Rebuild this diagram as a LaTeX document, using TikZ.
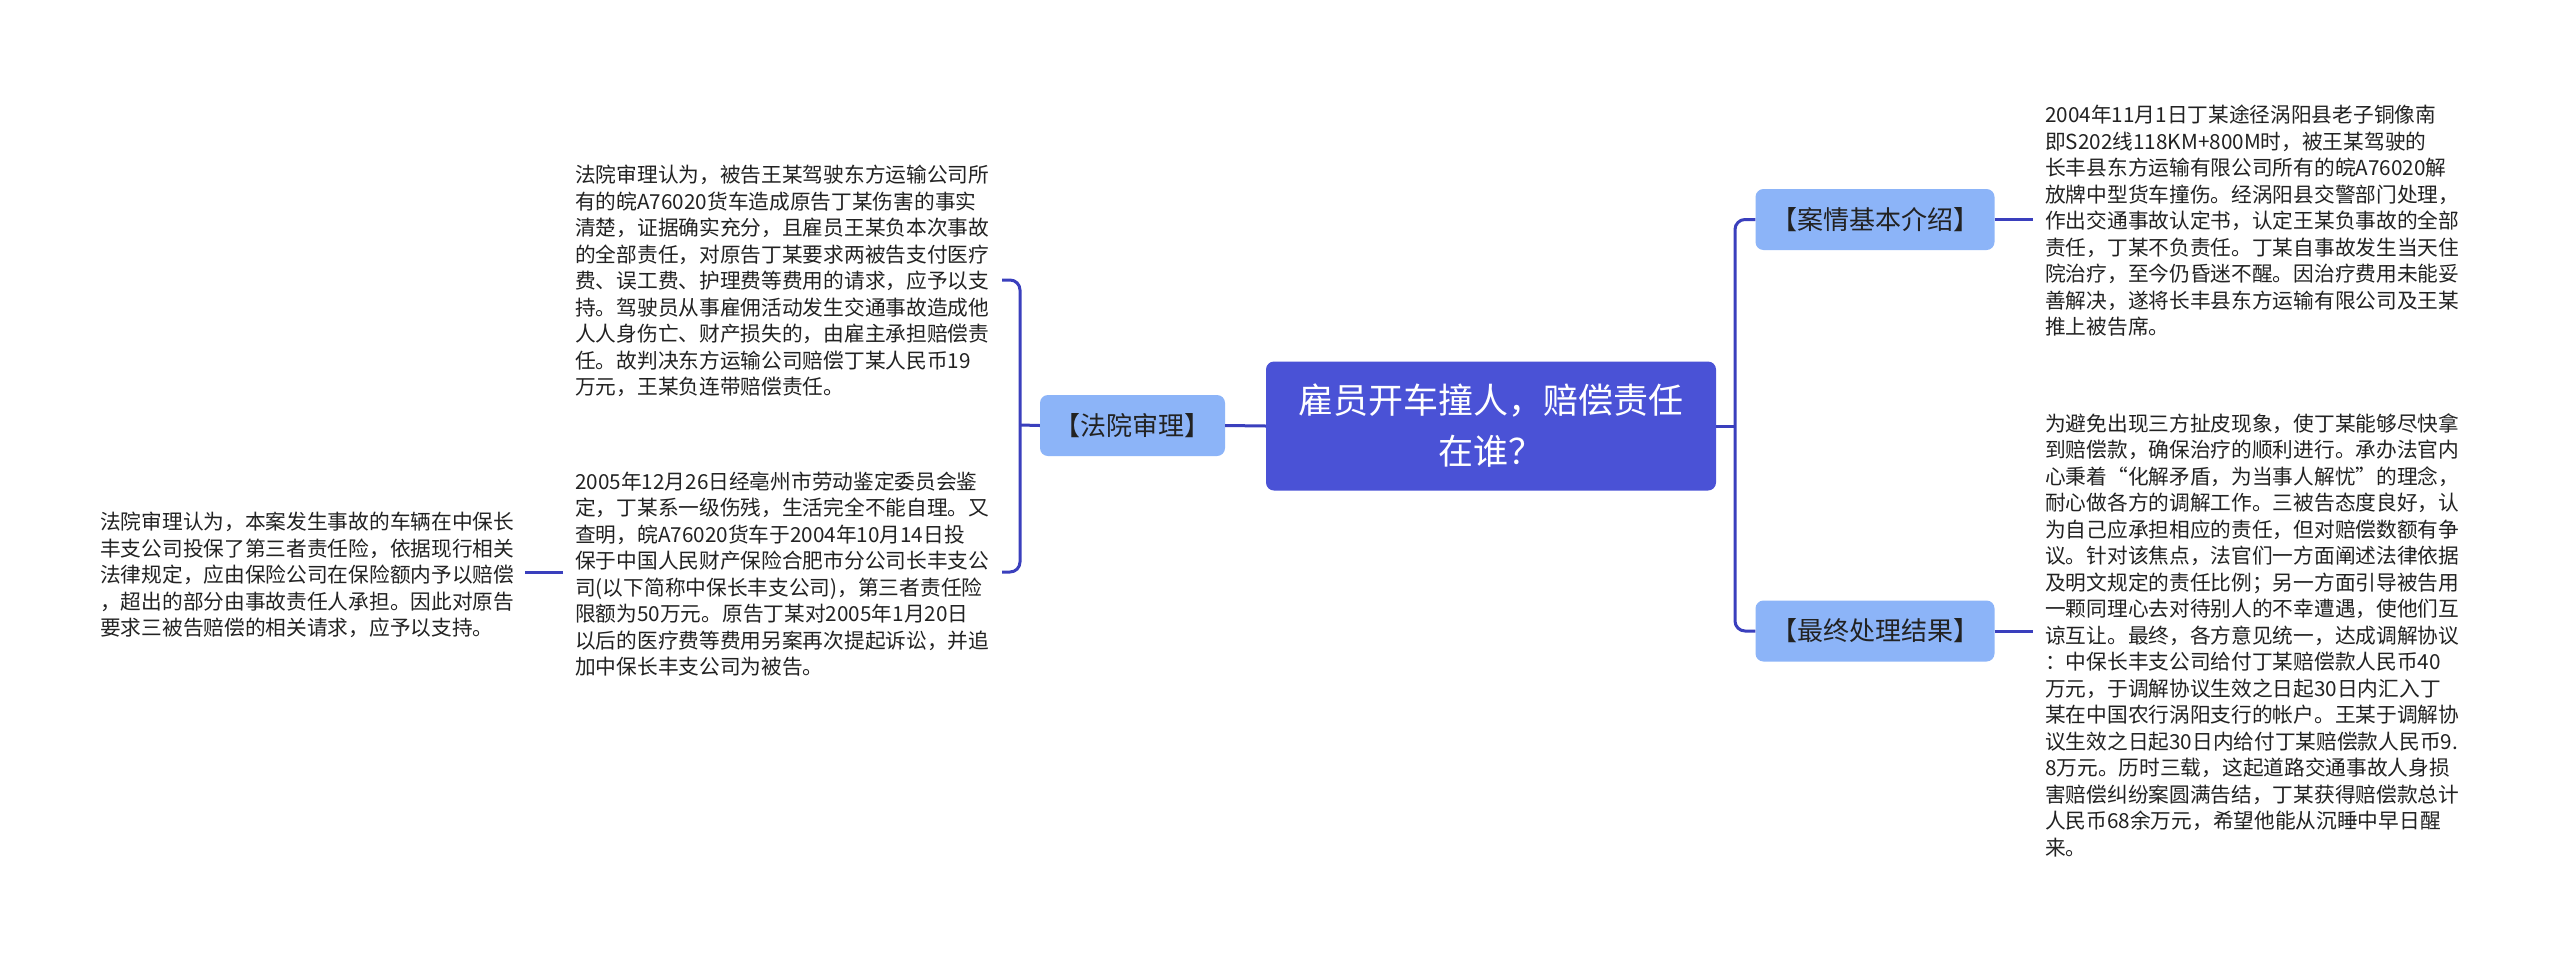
\documentclass[tikz,border=0pt]{standalone}
\usepackage{fontspec}
\newfontfamily\cjk{Noto Sans CJK SC}
\definecolor{mainblue}{RGB}{74,82,214}
\definecolor{subblue}{RGB}{140,180,248}
\definecolor{linec}{RGB}{58,63,189}
\definecolor{txt}{RGB}{34,34,34}
\tikzset{
  conn/.style={draw=linec, line width=3pt},
  rootbox/.style={fill=mainblue, rounded corners=8pt, inner sep=0pt, minimum width=450pt, minimum height=129pt, text=white, align=center, font=\cjk\fontsize{35}{51}\selectfont},
  subbox/.style={fill=subblue, rounded corners=8pt, inner sep=0pt, minimum height=61pt, text=txt, font=\cjk\fontsize{26}{30}\selectfont},
  para/.style={anchor=west, inner sep=0pt, align=left, text=txt, font=\cjk\fontsize{20.7}{26.5}\selectfont}
}
\begin{document}
\begin{tikzpicture}[x=1pt,y=-1pt]
\useasboundingbox (0,0) rectangle (2560,959);
\fill[white] (0,0) rectangle (2560,959);

\node[rootbox] (c) at (1491,426) {雇员开车撞人，赔偿责任\\在谁？};
\node[subbox, minimum width=185pt] (n1) at (1132.5,425.5) {【法院审理】};
\node[subbox, minimum width=239pt] (n2) at (1875,219.5) {【案情基本介绍】};
\node[subbox, minimum width=239pt] (n3) at (1875,631) {【最终处理结果】};

\node[para] (t1) at (575,281) {法院审理认为，被告王某驾驶东方运输公司所\\有的皖A76020货车造成原告丁某伤害的事实\\清楚，证据确实充分，且雇员王某负本次事故\\的全部责任，对原告丁某要求两被告支付医疗\\费、误工费、护理费等费用的请求，应予以支\\持。驾驶员从事雇佣活动发生交通事故造成他\\人人身伤亡、财产损失的，由雇主承担赔偿责\\任。故判决东方运输公司赔偿丁某人民币19\\万元，王某负连带赔偿责任。};

\node[para] (t2) at (575,574) {2005年12月26日经亳州市劳动鉴定委员会鉴\\定，丁某系一级伤残，生活完全不能自理。又\\查明，皖A76020货车于2004年10月14日投\\保于中国人民财产保险合肥市分公司长丰支公\\司(以下简称中保长丰支公司)，第三者责任险\\限额为50万元。原告丁某对2005年1月20日\\以后的医疗费等费用另案再次提起诉讼，并追\\加中保长丰支公司为被告。};

\node[para] (t3) at (100,575) {法院审理认为，本案发生事故的车辆在中保长\\丰支公司投保了第三者责任险，依据现行相关\\法律规定，应由保险公司在保险额内予以赔偿\\，超出的部分由事故责任人承担。因此对原告\\要求三被告赔偿的相关请求，应予以支持。};

\node[para] (t4) at (2045,221) {2004年11月1日丁某途径涡阳县老子铜像南\\即S202线118KM+800M时，被王某驾驶的\\长丰县东方运输有限公司所有的皖A76020解\\放牌中型货车撞伤。经涡阳县交警部门处理，\\作出交通事故认定书，认定王某负事故的全部\\责任，丁某不负责任。丁某自事故发生当天住\\院治疗，至今仍昏迷不醒。因治疗费用未能妥\\善解决，遂将长丰县东方运输有限公司及王某\\推上被告席。};

\node[para] (t5) at (2045,635) {为避免出现三方扯皮现象，使丁某能够尽快拿\\到赔偿款，确保治疗的顺利进行。承办法官内\\心秉着“化解矛盾，为当事人解忧”的理念，\\耐心做各方的调解工作。三被告态度良好，认\\为自己应承担相应的责任，但对赔偿数额有争\\议。针对该焦点，法官们一方面阐述法律依据\\及明文规定的责任比例；另一方面引导被告用\\一颗同理心去对待别人的不幸遭遇，使他们互\\谅互让。最终，各方意见统一，达成调解协议\\：中保长丰支公司给付丁某赔偿款人民币40\\万元，于调解协议生效之日起30日内汇入丁\\某在中国农行涡阳支行的帐户。王某于调解协\\议生效之日起30日内给付丁某赔偿款人民币9.\\8万元。历时三载，这起道路交通事故人身损\\害赔偿纠纷案圆满告结，丁某获得赔偿款总计\\人民币68余万元，希望他能从沉睡中早日醒\\来。};

% junctions
\coordinate (rj) at (1735,426);
\coordinate (lj) at (1020,425);
\coordinate (a1) at (1002,280);
\coordinate (a2) at (1002,572);

\draw[conn] (c.east) -- (rj);
\draw[conn, rounded corners=10pt] (n2.west) -| (rj) |- (n3.west);
\draw[conn] (c.west) -- (n1.east);
\draw[conn] (n1.west) -- (lj);
\draw[conn, rounded corners=10pt] (a1) -| (lj) |- (a2);
\draw[conn, shorten >=12pt] (n2.east) -- (n2.east -| t4.west);
\draw[conn, shorten >=12pt] (n3.east) -- (n3.east -| t5.west);
\draw[conn, shorten <=12pt, shorten >=11pt] (t2.west |- 0,572) -- (t3.east |- 0,572);
\end{tikzpicture}
\end{document}
